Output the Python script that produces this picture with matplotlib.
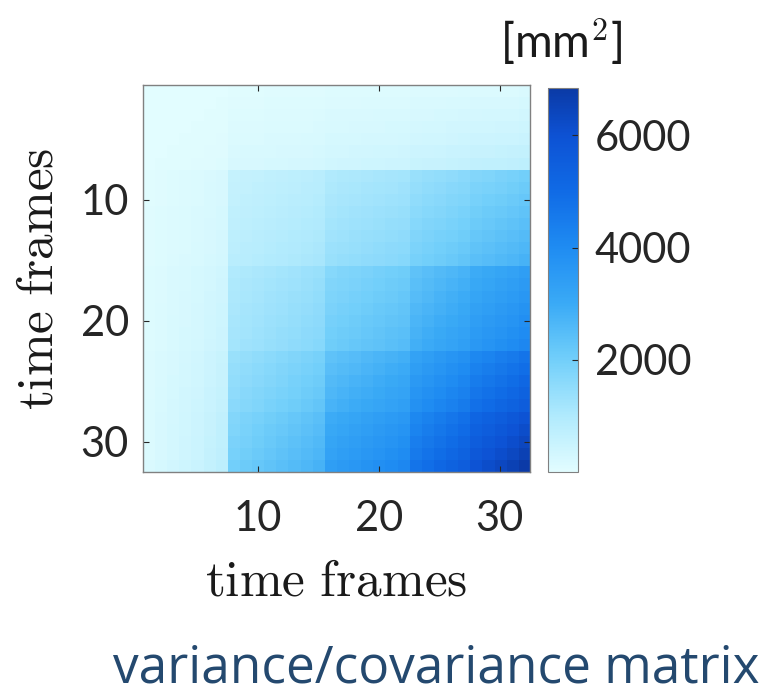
import numpy as np
import matplotlib
matplotlib.use("Agg")
import matplotlib.pyplot as plt
from matplotlib.colors import LinearSegmentedColormap

frame_scale = [2, 3, 4, 5, 6, 7.5, 9,
               24, 25.3, 26.6, 28, 29.3, 30.6, 32, 33.5,
               41, 42.5, 44, 45.5, 47, 48.5, 50,
               57, 59.5, 62, 64.5, 67,
               72, 74.5, 77, 79.5, 82.5]
cov = np.outer(frame_scale, frame_scale)
n_frames = len(frame_scale)

tick_frames = [10, 20, 30]
cbar_ticks = [2000, 4000, 6000]
unit_label = "[mm$^2$]"
axis_label = r"$\mathrm{time\ frames}$"
title_text = "variance/covariance matrix"

plt.rcParams["mathtext.fontset"] = "cm"
plt.rcParams["font.family"] = ["Lato", "DejaVu Sans"]

cmap = LinearSegmentedColormap.from_list("blues_matlab", [
    (0.0, "#e2fdff"), (0.146, "#b0eafd"), (0.292, "#72cffa"), (0.439, "#3aaaf6"),
    (0.585, "#1f8cf2"), (0.731, "#106be6"), (0.877, "#0d52d4"), (1.0, "#0b3aa6")])

fig = plt.figure(figsize=(7.68, 6.99), dpi=100)
ax = fig.add_axes([0.186, 0.3247, 0.504, 0.5536])
im = ax.imshow(cov, cmap=cmap, vmin=0, vmax=6840, interpolation="nearest",
               extent=(0.5, n_frames + 0.5, n_frames + 0.5, 0.5), aspect="auto")
ax.set_xticks(tick_frames)
ax.set_yticks(tick_frames)
ax.tick_params(direction="in", length=4, width=0.8, top=True, right=True,
               labelsize=30, colors="#262626")
ax.tick_params(axis="x", pad=20)
ax.tick_params(axis="y", pad=10)
for s in ax.spines.values():
    s.set_color("#808080")
    s.set_linewidth(1.0)
ax.set_xlabel(axis_label, fontsize=37, color="#1a1a1a", labelpad=15)
ax.set_ylabel(axis_label, fontsize=37, color="#1a1a1a", labelpad=14)

cax = fig.add_axes([0.7135, 0.3247, 0.039, 0.549])
cb = fig.colorbar(im, cax=cax, ticks=cbar_ticks)
cb.outline.set_edgecolor("#808080")
cax.tick_params(direction="in", length=4, width=0.8, labelsize=30,
                colors="#262626", pad=12)
fig.text(0.731, 0.94, unit_label, fontsize=33, color="#1a1a1a", ha="center", va="center")

fig.text(0.568, 0.043, title_text, fontsize=37, color="#24496f",
         family=["Open Sans", "DejaVu Sans"], ha="center", va="center")

fig.savefig("out.png", dpi=100)
